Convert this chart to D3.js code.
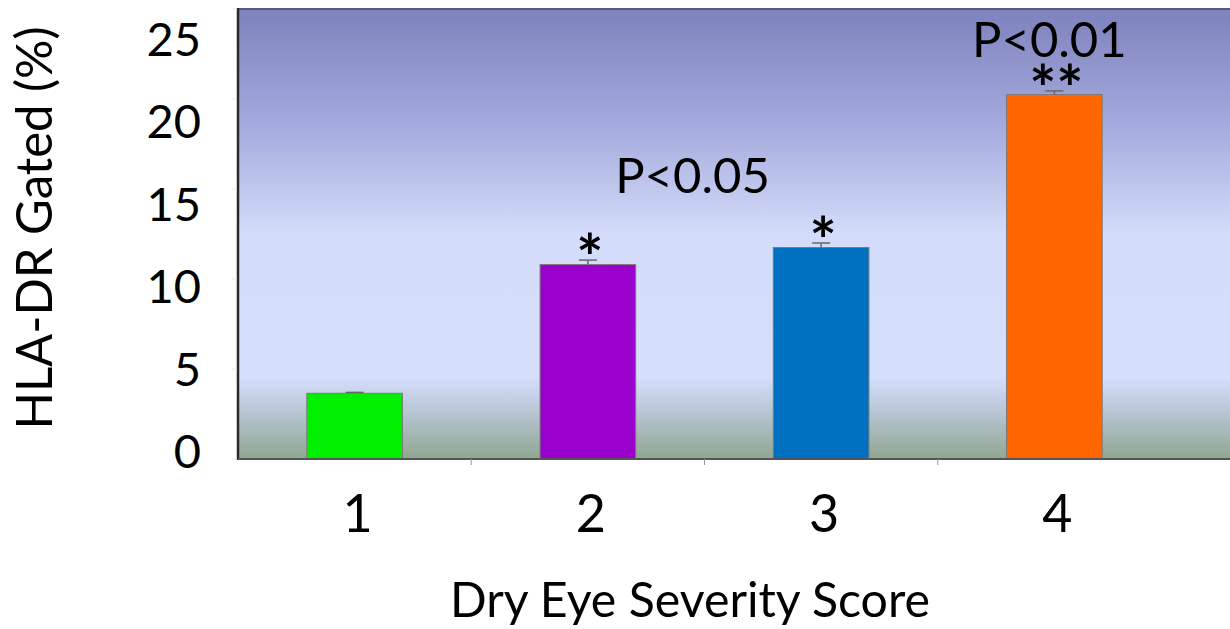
<!DOCTYPE html>
<html>
<head>
<meta charset="utf-8">
<script src="https://cdn.jsdelivr.net/npm/d3@7"></script>
<style>
  html, body { margin: 0; padding: 0; background: #ffffff; }
  svg { display: block; }
  text { font-family: Lato, "Open Sans", sans-serif; fill: #000; }
</style>
</head>
<body>
<svg id="chart" width="1230" height="629"></svg>
<script>
// ---- data ----
const categories = ["1", "2", "3", "4"];
const values = [3.65, 10.8, 11.75, 20.25];
const errors = [0.05, 0.25, 0.25, 0.2];
const barColors = ["#00f000", "#9900cc", "#0070c0", "#ff6600"];
const stars = ["", "*", "*", "**"];
const yTicks = [0, 5, 10, 15, 20, 25];
const xTitle = "Dry Eye Severity Score";
const yTitle = "HLA-DR Gated (%)";
const pLabels = ["P<0.05", "P<0.01"];

// ---- layout ----
const plotLeft = 238, plotRight = 1229, plotTop = 9, plotBottom = 459;
const svg = d3.select("#chart");

const x = d3.scaleBand().domain(categories).range([238, 1171]).paddingInner(0.59).paddingOuter(0.295);
const y = d3.scaleLinear().domain([0, 25]).range([plotBottom, plotTop]);
const yLabel = d3.scaleLinear().domain([0, 25]).range([451, 39]);

// background gradient
const defs = svg.append("defs");
const grad = defs.append("linearGradient").attr("id", "bg").attr("x1", 0).attr("y1", 0).attr("x2", 0).attr("y2", 1);
[[0, "#7e82bd"], [0.25, "#a3a9dc"], [0.5, "#d3dcfa"], [0.82, "#d5defb"], [0.9, "#b6c4d2"], [1, "#8fa78f"]]
  .forEach(([o, c]) => grad.append("stop").attr("offset", o).attr("stop-color", c));

svg.append("rect").attr("x", plotLeft).attr("y", plotTop)
  .attr("width", plotRight - plotLeft + 1).attr("height", plotBottom - plotTop)
  .attr("fill", "url(#bg)");

// top border
svg.append("line").attr("x1", plotLeft).attr("x2", 1230).attr("y1", plotTop).attr("y2", plotTop)
  .attr("stroke", "#555a78").attr("stroke-width", 2);

// bars
svg.selectAll("rect.bar").data(values).join("rect").attr("class", "bar")
  .attr("x", (d, i) => x(categories[i]))
  .attr("y", d => y(d))
  .attr("width", x.bandwidth())
  .attr("height", d => y(0) - y(d))
  .attr("fill", (d, i) => barColors[i])
  .attr("stroke", "#7a7a7a").attr("stroke-width", 1);

// error bars
const eb = svg.selectAll("g.err").data(values).join("g").attr("class", "err");
eb.append("line")
  .attr("x1", (d, i) => x(categories[i]) + x.bandwidth() / 2)
  .attr("x2", (d, i) => x(categories[i]) + x.bandwidth() / 2)
  .attr("y1", d => y(d))
  .attr("y2", (d, i) => y(d + errors[i]))
  .attr("stroke", "#666").attr("stroke-width", 1.5);
eb.append("line")
  .attr("x1", (d, i) => x(categories[i]) + x.bandwidth() / 2 - 9)
  .attr("x2", (d, i) => x(categories[i]) + x.bandwidth() / 2 + 9)
  .attr("y1", (d, i) => y(d + errors[i]))
  .attr("y2", (d, i) => y(d + errors[i]))
  .attr("stroke", "#666").attr("stroke-width", 1.5);

// stars
svg.selectAll("text.star").data(values).join("text").attr("class", "star")
  .attr("x", (d, i) => x(categories[i]) + x.bandwidth() / 2 + 2)
  .attr("y", (d, i) => y(d + errors[i]) + 21)
  .attr("text-anchor", "middle")
  .attr("font-size", 64)
  .attr("font-weight", "bold")
  .text((d, i) => stars[i]);

// p labels
svg.append("text")
  .attr("x", (x("2") + x("3") + x.bandwidth()) / 2 - 12)
  .attr("y", y(14.8))
  .attr("text-anchor", "middle").attr("font-size", 49)
  .text(pLabels[0]);
svg.append("text")
  .attr("x", x("4") + x.bandwidth() / 2 - 5)
  .attr("y", y(22.35))
  .attr("text-anchor", "middle").attr("font-size", 49)
  .text(pLabels[1]);

// y axis line
svg.append("line").attr("x1", plotLeft).attr("x2", plotLeft).attr("y1", plotTop - 1).attr("y2", plotBottom + 1)
  .attr("stroke", "#2a2a2a").attr("stroke-width", 2.5);
// faint y ticks
svg.selectAll("line.yt").data(yTicks).join("line").attr("class", "yt")
  .attr("x1", plotLeft - 6).attr("x2", plotLeft - 1)
  .attr("y1", d => y(d)).attr("y2", d => y(d))
  .attr("stroke", "#f0ebc0").attr("stroke-width", 1);
// y tick labels
svg.selectAll("text.ylab").data(yTicks).join("text").attr("class", "ylab")
  .attr("x", 201)
  .attr("y", d => yLabel(d))
  .attr("dy", "0.36em")
  .attr("text-anchor", "end")
  .attr("font-size", 47)
  .text(d => d);

// x axis line
svg.append("line").attr("x1", plotLeft).attr("x2", 1230).attr("y1", plotBottom).attr("y2", plotBottom)
  .attr("stroke", "#555").attr("stroke-width", 2);
// x ticks between categories
svg.selectAll("line.xt").data(categories.slice(1)).join("line").attr("class", "xt")
  .attr("x1", d => x(d) - x.step() * x.paddingInner() / 2)
  .attr("x2", d => x(d) - x.step() * x.paddingInner() / 2)
  .attr("y1", plotBottom).attr("y2", plotBottom + 6)
  .attr("stroke", "#999").attr("stroke-width", 1);
// x tick labels
svg.selectAll("text.xlab").data(categories).join("text").attr("class", "xlab")
  .attr("x", d => x(d) + x.bandwidth() / 2 + 3)
  .attr("y", 532)
  .attr("text-anchor", "middle")
  .attr("font-size", 52)
  .text(d => d);

// axis titles
svg.append("text").attr("x", 690).attr("y", 617)
  .attr("text-anchor", "middle").attr("font-size", 48)
  .attr("textLength", 480).attr("lengthAdjust", "spacingAndGlyphs")
  .text(xTitle);
svg.append("text")
  .attr("transform", "translate(52,228) rotate(-90)")
  .attr("text-anchor", "middle").attr("font-size", 50)
  .attr("textLength", 403).attr("lengthAdjust", "spacingAndGlyphs")
  .text(yTitle);
</script>
</body>
</html>
